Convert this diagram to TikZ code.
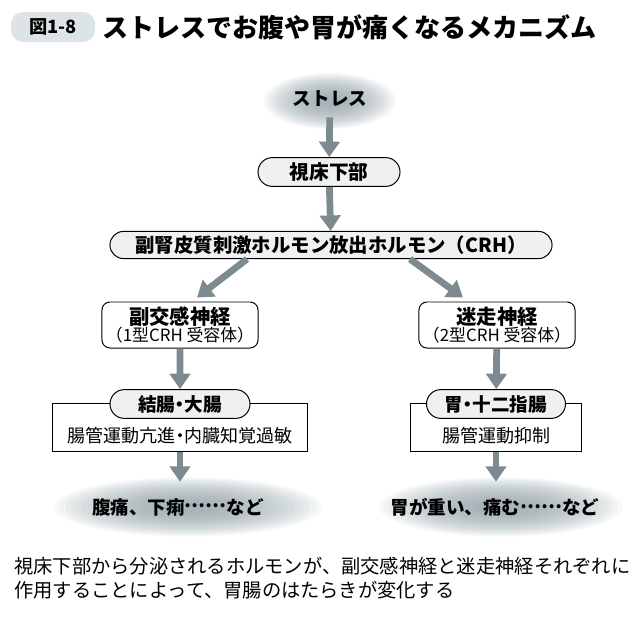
\documentclass[tikz,border=0pt]{standalone}
\usepackage{fontspec}
\setmainfont{Noto Sans CJK JP}
\usetikzlibrary{arrows.meta,positioning,shapes.misc}

\definecolor{flowgray}{HTML}{7D8A8F}
\definecolor{pillfill}{HTML}{EEF0F1}
\definecolor{badgefill}{HTML}{DDE4E7}
\definecolor{cloudgray}{HTML}{8A9BA1}

\newcommand{\midots}{\raisebox{0.33em}{……}}
\newcommand{\nakaguro}{\kern-0.25em・\kern-0.25em}

\tikzset{
  flow/.style={draw=flowgray,line width=4.8pt,-{Triangle[width=14.5pt,length=11pt]}},
  pill/.style={draw,rounded rectangle,fill=pillfill,line width=0.7pt,inner sep=0pt,
    minimum height=0.72cm,font=\fontsize{14pt}{16pt}\selectfont\bfseries},
  nerve/.style={draw,rounded corners=0.2cm,fill=white,line width=0.7pt,inner sep=0pt,
    minimum width=3.9cm,minimum height=1.15cm,align=center},
  frame/.style={draw,line width=0.7pt,fill=white,minimum height=1.2cm,inner sep=0pt},
  effect/.style={inner sep=0pt,font=\fontsize{12.8pt}{14pt}\selectfont},
  cloudtext/.style={inner sep=0pt,font=\fontsize{13.2pt}{15pt}\selectfont\bfseries},
  cloudlayer/.style={fill=cloudgray,opacity=0.065},
  badge/.style={fill=badgefill,rounded corners=0.3cm,minimum width=2.1cm,minimum height=0.75cm,
    inner sep=0pt,font=\fontsize{13pt}{15pt}\selectfont\bfseries},
  headline/.style={inner sep=0pt,font=\fontsize{18.5pt}{20pt}\selectfont\bfseries},
  note/.style={inner sep=0pt,align=left,font=\fontsize{13.7pt}{17pt}\selectfont}
}

\begin{document}
\begin{tikzpicture}[x=0.025cm,y=-0.025cm]
\useasboundingbox (0,0) rectangle (640,620);

\foreach \k in {0,...,19}{
  \fill[cloudlayer] (330,101) ellipse ({1.65cm*(1-\k*0.042)} and {0.7cm*(1-\k*0.042)});
  \fill[cloudlayer] (188,507) ellipse ({3.35cm*(1-\k*0.042)} and {0.74cm*(1-\k*0.042)});
  \fill[cloudlayer] (501,507) ellipse ({3.05cm*(1-\k*0.042)} and {0.74cm*(1-\k*0.042)});
}

\node[badge] (badge) at (53,27) {図1-8};
\node[headline,anchor=west] (title) at (102,27) {ストレスでお腹や胃が痛くなるメカニズム};

\node[cloudtext,minimum height=0.9cm] (stress) at (330,99) {ストレス};
\node[pill,minimum width=3.55cm] (hypo) at (329,172) {視床下部};
\node[pill,minimum width=11.05cm,minimum height=0.68cm,font=\fontsize{13.8pt}{16pt}\selectfont\bfseries]
  (crh) at (331,245) {副腎皮質刺激ホルモン放出ホルモン（CRH）};

\node[nerve] (para) at (180,325)
  {{\fontsize{14.5pt}{15pt}\selectfont\bfseries 副交感神経}\\{\fontsize{12pt}{13pt}\selectfont （1型CRH 受容体）}};
\node[nerve] (vagus) at (497,325)
  {{\fontsize{14.5pt}{15pt}\selectfont\bfseries 迷走神経}\\{\fontsize{12pt}{13pt}\selectfont （2型CRH 受容体）}};

\node[frame,minimum width=6.35cm] (colonbox) at (180,427) {};
\node[pill,minimum width=3.5cm,font=\fontsize{13.2pt}{15pt}\selectfont\bfseries] (colon) at (180,404) {結腸\nakaguro 大腸};
\node[effect] (colonfx) at (180,436) {腸管運動亢進\nakaguro 内臓知覚過敏};

\node[frame,minimum width=4.25cm] (gastrobox) at (496,427) {};
\node[pill,minimum width=3.475cm,font=\fontsize{13.2pt}{15pt}\selectfont\bfseries] (gastro) at (496,404) {胃\nakaguro 十二指腸};
\node[effect] (gastrofx) at (496,436) {腸管運動抑制};

\node[cloudtext,minimum height=1.25cm] (lsym) at (178,507) {腹痛、下痢\midots など};
\node[cloudtext,minimum height=1.25cm] (rsym) at (495,507) {胃が重い、痛む\midots など};

\draw[flow] (stress) -- (hypo);
\draw[flow] (hypo) -- (crh);
\draw[flow] ([xshift=-2.1cm]crh.south) -- ([xshift=0.425cm,yshift=0.1cm]para.north);
\draw[flow] ([xshift=1.975cm]crh.south) -- ([xshift=-0.85cm,yshift=0.1cm]vagus.north);
\draw[flow] (para) -- (colon);
\draw[flow] (vagus) -- (gastro);
\draw[flow] (colonbox.south) -- (colonbox.south |- lsym.north);
\draw[flow] (gastrobox.south) -- (gastrobox.south |- rsym.north);

\node[note,anchor=north west] (caption) at (14,557)
  {視床下部から分泌されるホルモンが、副交感神経と迷走神経それぞれに\\作用することによって、胃腸のはたらきが変化する};

\end{tikzpicture}
\end{document}
